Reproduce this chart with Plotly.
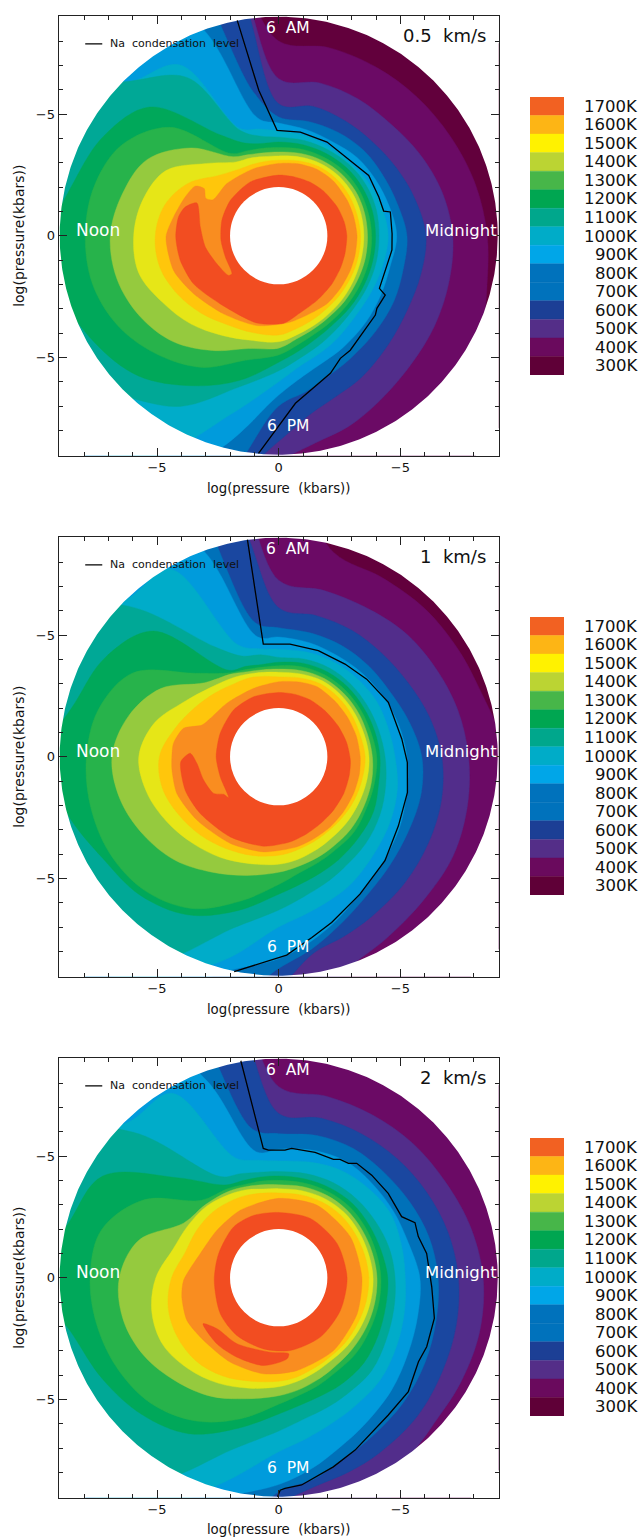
import math
import plotly.graph_objects as go

# Longitude (degrees, 0 = midnight, 90 = 6 AM, 180 = noon, 270 = 6 PM)
theta = [0,15,30,45,60,75,90,100,110,120,135,150,165,180,195,210,225,240,255,270,280,290,300,315,330,345]

# Panel (a) 0.5 km/s: log-pressure radius of the outer edge of each temperature band (12 = off the disk)
a_r400 = [8.57,8.35,8.15,8.05,8.0,8.0,8.0,11]+[12]*16+[9.6,8.85]
a_r500 = [7.15,6.95,6.7,6.5,6.5,6.5,6.45,11]+[12]*11+[9.3,8.65,8.35,8.0,7.6,7.4,7.25]
a_r600 = [6.05,5.8,5.58,5.45,5.45,5.5,5.42,10.5]+[12]*10+[11,8.45,7.45,7.0,6.75,6.35,6.1,6.05]
a_r700 = [5.27,5.05,4.95,4.95,4.9,4.85,4.88,6.0]+[12]*10+[11,7.0,6.5,6.1,5.85,5.6,5.45,5.3]
a_r800 = [4.85,4.7,4.6,4.55,4.45,4.5,4.63,4.9,9.0]+[12]*9+[9.0,6.55,5.85,5.5,5.3,5.05,4.85,4.75]
a_r900 = [4.5,4.4,4.3,4.2,4.2,4.25,4.3,4.45,4.7,8.1,8.85]+[12]*6+[10.5,7.6,6.0,5.4,5.1,4.85,4.55,4.45,4.45]
a_r1000 = [4.12,4.15,4.15,4.12,4.07,4.05,4.05,4.15,4.6,7.5,8.95]+[12]*5+[9.3,8.1,6.45,5.55,5.1,4.8,4.55,4.3,4.2,4.15]
a_r1100 = [3.98,3.98,3.97,3.95,3.9,3.87,3.85,3.85,4.05,4.78,7.48,8.26,8.69,9.35,9.25,8.75,8.15,7.12,6.15,5.2,4.8,4.5,4.3,4.15,4.05,4.0]
a_r1200 = [3.82,3.8,3.8,3.78,3.72,3.68,3.62,3.65,3.72,3.9,6.3,7.45,7.85,7.95,7.9,7.55,6.95,6.25,5.3,4.9,4.55,4.3,4.15,4.0,3.9,3.85]
a_r1300 = [3.65,3.65,3.65,3.62,3.57,3.5,3.44,3.46,3.55,3.75,5.1,6.25,6.65,6.92,6.88,6.6,6.15,5.45,4.8,4.62,4.3,4.1,3.95,3.82,3.72,3.68]
a_r1400 = [3.5,3.5,3.5,3.48,3.43,3.35,3.28,3.3,3.4,3.5,4.2,5.35,5.77,5.96,5.95,5.5,5.12,4.72,4.45,4.36,4.15,3.98,3.85,3.7,3.58,3.52]
a_r1500 = [3.36,3.33,3.33,3.32,3.28,3.18,3.1,3.1,3.12,3.17,3.5,4.3,4.85,5.07,5.05,4.8,4.5,4.22,4.12,4.08,3.9,3.75,3.62,3.5,3.42,3.38]
a_t1600 = [180.6,170,157.5,149.3,147.7,152.8,151.3,134.8,110.5,90,75,60.2,45,27.3,15,0,-15,-26,-40,-55,-82.3,-103.6,-125.2,-145.7,-161.7]
a_r1600 = [4.63,4.39,4.16,3.99,3.62,3.37,3.08,3.02,2.94,2.97,3.06,3.15,3.18,3.17,3.18,3.22,3.24,3.27,3.33,3.43,3.58,3.8,3.93,4.23,4.55]
a_t1700 = [180.7,169.4,162.9,158.2,173.7,188.8,204.4,218.4,219.2,201.8,184.6,164.9,143.8,117.8,90,75,59.5,45,26.2,12,0,345,333,318,300.7,285,273.3,256,229.4,209.5,194.1]
a_r1700 = [4.23,4.19,4.02,3.62,3.24,3.05,2.79,2.63,2.48,2.36,2.38,2.42,2.46,2.5,2.49,2.5,2.55,2.6,2.68,2.75,2.8,2.82,2.86,2.95,3.09,3.3,3.6,3.7,3.69,4.02,4.17]
a_na_t = [100.9,97.8,90.9,78.2,62.7,46.4,33.8,21.1,13.2,12,1,352.8-360,332.4-360,330.9-360,323.5-360,320.6-360,302-360,296.7-360,290.6-360,275.7-360,264.7-360]
a_na_r = [9.01,6.03,4.33,4.35,4.33,4.27,4.45,4.41,4.43,4.69,4.66,4.69,4.67,5.01,5.02,5.14,5.55,5.64,6.04,6.92,8.98]

# Panel (b) 1 km/s
b_r400 = [9.6,8.8,8.6,8.55,8.5,8.7]+[12]*20
b_r500 = [7.8,7.6,7.4,7.27,7.1,7.08,7.25]+[12]*13+[10,9.05,8.7,8.38,8.25,8.02]
b_r600 = [6.7,6.4,6.12,6.0,6.0,6.0,6.12,10]+[12]*11+[9.5,8.2,7.85,7.6,7.33,7.1,6.92]
b_r700 = [5.88,5.55,5.3,5.25,5.25,5.25,5.3,5.6]+[12]*10+[11,8.7,8.0,7.35,6.85,6.4,6.15,6.05]
b_r800 = [5.27,5.1,4.95,4.85,4.8,4.85,4.92,5.0,9.0]+[12]*9+[9.2,8.3,7.7,7.1,6.55,6.08,5.75,5.45]
b_r900 = [4.78,4.65,4.62,4.55,4.5,4.45,4.42,4.5,4.9,8.9,9.05]+[12]*6+[10.5,8.65,7.0,6.55,6.25,6.0,5.58,5.3,5.05]
b_r1000 = [4.37,4.25,4.2,4.2,4.2,4.15,4.08,4.25,4.4,5.2,8.75]+[12]*6+[9.7,7.3,6.3,5.85,5.55,5.3,5.05,4.8,4.55]
b_r1100 = [4.16,4.08,4.03,4.03,4.02,3.97,3.88,3.85,3.95,4.1,7.3,8.2,8.65,9.6,9.0,8.35,8.05,7.5,6.55,5.65,5.3,5.07,4.9,4.67,4.5,4.25]
b_r1200 = [4.03,3.92,3.88,3.87,3.86,3.82,3.74,3.74,3.82,3.98,4.85,6.9,7.65,7.9,8.0,8.0,7.78,7.2,6.15,5.25,4.85,4.65,4.5,4.38,4.18,4.08]
b_r1300 = [3.85,3.76,3.74,3.73,3.72,3.66,3.6,3.63,3.72,3.92,4.3,5.6,6.4,6.85,6.75,6.42,6.02,5.48,5.05,4.75,4.58,4.45,4.33,4.2,4.05,3.95]
b_r1400 = [3.71,3.63,3.6,3.6,3.6,3.52,3.47,3.52,3.62,3.75,4.0,4.5,5.3,5.75,5.62,5.32,5.02,4.78,4.55,4.42,4.3,4.15,4.02,3.9,3.8,3.75]
b_r1500 = [3.55,3.46,3.45,3.45,3.45,3.35,3.28,3.35,3.45,3.5,3.7,4.0,4.42,4.9,4.95,4.75,4.55,4.35,4.2,4.05,3.92,3.8,3.7,3.62,3.58,3.55]
b_t1600 = [180,172.8,163.4,157.6,150.7,134,110,90,75,61.3,45,30.3,15,0,-12,-26,-40,-53.6,-66,-78.5,-99,-119.1,-142.2,-160.2,-173]
b_r1600 = [4.39,4.36,4.08,3.41,3.22,3.06,2.99,3.08,3.18,3.28,3.25,3.26,3.3,3.35,3.39,3.43,3.49,3.58,3.66,3.78,3.96,4.08,4.25,4.45,4.42]
b_t1700 = [183,177.8,184.7,197.3,209.4,214.4,219.4,198.9,180,158.2,134,112.6,90,75,60.8,45,27.2,12,-3,-15,-29.4,-45,-58,-70,-82.2,-99.5,-121.1,-144.1,-160.3]
b_r1700 = [4.03,3.64,3.37,3.23,3.07,2.74,2.66,2.54,2.57,2.59,2.67,2.67,2.64,2.65,2.67,2.68,2.75,2.85,2.95,3.0,3.07,3.15,3.24,3.37,3.53,3.73,3.85,3.98,4.08]
b_na_t = [98.2,97.8,84.3,69.5,54.4,41.4,26.4,8.2,-2.5,-15.5,-30,-44.4,-59.4,-72.3,-79.6,-87.7,-101.7]
b_na_r = [9.01,4.67,4.65,4.65,4.68,4.82,5.03,5.11,5.29,5.49,5.68,6.11,6.56,7.15,7.55,8.16,9.02]

# Panel (c) 2 km/s
c_r400 = [12]*26
c_r500 = [8.4,8.15,7.9,7.8,7.72,7.71,7.85]+[12]*15+[9.6,8.8,8.63,8.55]
c_r600 = [7.38,7.2,7.02,6.9,6.82,6.78,6.75,11]+[12]*11+[9.3,8.7,8.48,8.3,8.05,7.75,7.55]
c_r700 = [6.55,6.4,6.22,6.12,6.13,6.05,5.92,6.2]+[12]*11+[8.8,8.4,7.9,7.58,7.25,6.95,6.7]
c_r800 = [5.8,5.52,5.45,5.45,5.52,5.42,5.28,5.25,8.6]+[12]*9+[9.4,8.5,7.95,7.4,7.0,6.55,6.15,5.92]
c_r900 = [5.2,5.22,5.3,5.2,5.1,4.92,4.8,4.9,5.25,8.75,8.95]+[12]*6+[11,8.7,7.15,6.7,6.37,6.15,5.92,5.6,5.35]
c_r1000 = [4.78,4.7,4.6,4.55,4.5,4.42,4.36,4.4,4.55,4.8,8.45]+[12]*6+[9.6,7.3,6.3,5.9,5.7,5.55,5.4,5.1,4.9]
c_r1100 = [4.48,4.35,4.3,4.3,4.25,4.2,4.18,4.2,4.25,4.4,5.8,8.35,8.9,10,8.8,8.35,7.95,7.4,6.4,5.6,5.3,5.15,5.08,4.95,4.72,4.55]
c_r1200 = [4.2,4.14,4.12,4.12,4.08,4.03,4.0,4.03,4.08,4.22,4.5,6.4,7.55,7.75,7.72,7.6,7.35,6.8,6.0,5.2,4.9,4.72,4.55,4.45,4.32,4.25]
c_r1300 = [4.04,3.98,3.95,3.95,3.92,3.87,3.82,3.88,3.98,4.1,4.25,4.5,5.95,6.55,6.62,6.4,6.0,5.62,5.15,4.85,4.68,4.5,4.35,4.22,4.14,4.08]
c_r1400 = [3.88,3.82,3.8,3.8,3.76,3.7,3.66,3.7,3.85,3.97,4.17,4.3,4.5,5.05,5.4,5.5,5.28,5.0,4.7,4.48,4.33,4.18,4.05,3.98,3.93,3.9]
c_r1500 = [3.7,3.65,3.62,3.62,3.58,3.52,3.48,3.53,3.62,3.7,3.82,3.89,3.98,4.4,4.7,4.82,4.82,4.65,4.4,4.25,4.15,4.0,3.9,3.82,3.75,3.72]
c_t1600 = [191.3,181.6,162.9,142.5,119.7,90,62,29.6,0,-25,-53,-79,-99,-120,-140.1,-155]
c_r1600 = [4.06,3.91,3.37,3.2,3.19,3.26,3.37,3.39,3.42,3.55,3.75,3.89,4.0,4.0,4.02,4.16]
c_t1700 = [182.4,158,131.6,112,90,61.8,30.2,0,-28,-55,-81,-102,-126,-148.3,None,211.3,219.6,237.7,263.6,277.5,275.9,260.3,242.3,226.9]
c_r1700 = [2.65,2.66,2.79,2.76,2.68,2.76,2.78,2.81,2.87,2.98,3.03,2.99,2.93,2.82,None,3.64,3.29,3.21,3.08,3.15,3.35,3.66,3.69,3.72]
c_na_t = [99.9,99.2,98.2,96.8,94.6,87.2,84.3,73.8,65.2,62.6,58.6,55.7,47.8,37.6,26.4,22,16.4,9.3,-3.4,-14.6,-25,-31,-41.3,-51.4,-66.1,-73.9,-83.7,-88.3,-89.6,-90.3]
c_na_r = [9.05,7.81,6.82,5.35,5.26,5.25,5.34,5.36,5.36,5.48,5.5,5.69,5.69,5.68,5.64,6.04,5.98,6.16,6.3,6.61,6.71,6.7,7.09,7.22,7.75,8.09,8.57,8.66,8.73,9.0]

panel_tags = ["(a)", "(b)", "(c)"]
panel_speeds = ["0.5  km/s", "1  km/s", "2  km/s"]
legend_labels = ["1700K","1600K","1500K","1400K","1300K","1200K","1100K","1000K","900K","800K","700K","600K","500K","400K","300K"]
legend_colors = ["#F26122","#FDB515","#FFF200","#BBD433","#47B649","#00A651","#00A78C","#00ACC8","#00A6E8","#0072BC","#0072BC","#1C3F95","#542E88","#6A0A5D","#5F0037"]
band_colors = {300:"#62003C",400:"#6B0A65",500:"#522D8B",600:"#1A47A0",700:"#0071B9",800:"#009BDC",900:"#00ACC9",
               1000:"#00A896",1100:"#00A85A",1200:"#27B34B",1300:"#95CA3E",1400:"#E6E617",1500:"#FFC60B",1600:"#F98D20",1700:"#F24D21"}
DISK = 9.0
HOLE = 2.0
LIM = 9.04

panels = [
    dict(r=[a_r400,a_r500,a_r600,a_r700,a_r800,a_r900,a_r1000,a_r1100,a_r1200,a_r1300,a_r1400,a_r1500],
         t16=a_t1600,r16=a_r1600,t17=a_t1700,r17=a_r1700,nt=a_na_t,nr=a_na_r),
    dict(r=[b_r400,b_r500,b_r600,b_r700,b_r800,b_r900,b_r1000,b_r1100,b_r1200,b_r1300,b_r1400,b_r1500],
         t16=b_t1600,r16=b_r1600,t17=b_t1700,r17=b_r1700,nt=b_na_t,nr=b_na_r),
    dict(r=[c_r400,c_r500,c_r600,c_r700,c_r800,c_r900,c_r1000,c_r1100,c_r1200,c_r1300,c_r1400,c_r1500],
         t16=c_t1600,r16=c_r1600,t17=c_t1700,r17=c_r1700,nt=c_na_t,nr=c_na_r),
]
for p in panels:
    for arr in p["r"]:
        assert len(arr) == len(theta), len(arr)
    assert len(p["t16"]) == len(p["r16"]) and len(p["t17"]) == len(p["r17"])

def to_xy(ts, rs, close=False):
    xs, ys = [], []
    for t, r in zip(ts, rs):
        if t is None:
            xs.append(None); ys.append(None); continue
        a = math.radians(t)
        xs.append(r*math.cos(a)); ys.append(r*math.sin(a))
    if close:
        xs.append(xs[0]); ys.append(ys[0])
    return xs, ys

# Square with a circular hole: hides everything beyond the disk edge.
def mask_xy():
    big = 10.0
    xs = [big, big, -big, -big, big, big]
    ys = [0, big, big, -big, -big, 0]
    for i in range(0, 721):
        a = -math.radians(i/2)
        xs.append(DISK*math.cos(a)); ys.append(DISK*math.sin(a))
    xs.append(big); ys.append(0)
    return xs, ys

W, H = 640, 1537
tops = [15.7, 536.7, 1057.7]
BOX_H = 440
leg_tops = [97, 617, 1138]
LEG_H = 278

fig = go.Figure()
annotations = []
shapes = []
layout = {}
MINOR = [-9,-8,-7,-6,-4,-3,-2,-1,1,2,3,4,6,7,8,9]
temps = [400,500,600,700,800,900,1000,1100,1200,1300,1400,1500]
TICK = "#222"

for i, p in enumerate(panels):
    xn = "x" if i == 0 else f"x{i+1}"
    yn = "y" if i == 0 else f"y{i+1}"
    def poly(xs, ys, color, smooth=1.0):
        fig.add_trace(go.Scatter(x=xs, y=ys, xaxis=xn, yaxis=yn, mode="lines", fill="toself",
                                 fillcolor=color, line=dict(width=0.4, color=color, shape="spline", smoothing=smooth, simplify=False),
                                 hoverinfo="skip", showlegend=False))
    x0, y0 = to_xy(theta, [12]*len(theta), close=True)
    poly(x0, y0, band_colors[300])
    for T, arr in zip(temps, p["r"]):
        xs, ys = to_xy(theta, arr, close=True)
        poly(xs, ys, band_colors[T])
    xs, ys = to_xy(p["t16"], p["r16"], close=True)
    poly(xs, ys, band_colors[1600], 0.7)
    if None in p["t17"]:
        k = p["t17"].index(None)
        x1, y1 = to_xy(p["t17"][:k], p["r17"][:k], close=True)
        x2, y2 = to_xy(p["t17"][k+1:], p["r17"][k+1:], close=True)
        poly(x1, y1, band_colors[1700], 0.8)
        poly(x2, y2, band_colors[1700], 0.8)
    else:
        xs, ys = to_xy(p["t17"], p["r17"], close=True)
        poly(xs, ys, band_colors[1700], 0.7)
    mx, my = mask_xy()
    fig.add_trace(go.Scatter(x=mx, y=my, xaxis=xn, yaxis=yn, mode="lines", fill="toself", fillcolor="white",
                             line=dict(width=0), hoverinfo="skip", showlegend=False))
    nx, ny = to_xy(p["nt"], p["nr"])
    fig.add_trace(go.Scatter(x=nx, y=ny, xaxis=xn, yaxis=yn, mode="lines", line=dict(color="black", width=1.3),
                             hoverinfo="skip", showlegend=False))
    fig.add_trace(go.Scatter(x=[-7.95,-7.25], y=[7.88,7.88], xaxis=xn, yaxis=yn, mode="lines",
                             line=dict(color="black", width=1.2), hoverinfo="skip", showlegend=False))
    shapes.append(dict(type="circle", xref=xn, yref=yn, x0=-HOLE, x1=HOLE, y0=-HOLE, y1=HOLE,
                       fillcolor="white", line=dict(width=0), layer="above"))
    dom_y = [1-(tops[i]+BOX_H)/H, 1-tops[i]/H]
    dom_x = [58.7/W, 498.7/W]
    common = dict(range=[-LIM, LIM], tickvals=[-5,0,5], ticktext=["\u22125","0","\u22125"], ticks="inside", ticklen=8,
                  tickwidth=1, tickcolor=TICK, showline=True, linecolor=TICK, linewidth=1.2, mirror="ticks",
                  showgrid=False, zeroline=False, tickfont=dict(family="DejaVu Sans", size=13, color="#111"),
                  minor=dict(tickvals=MINOR, ticks="inside", ticklen=4, tickwidth=1, tickcolor=TICK, showgrid=False))
    ax = dict(common); ay = dict(common)
    ax["domain"] = dom_x; ax["anchor"] = yn
    ax["title"] = dict(text="log(pressure  (kbars))", standoff=9, font=dict(family="DejaVu Sans", size=13.3, color="#111"))
    ay["domain"] = dom_y; ay["anchor"] = xn
    ay["title"] = dict(text="log(pressure(kbars))", standoff=7, font=dict(family="DejaVu Sans", size=14, color="#111"))
    layout["xaxis" if i == 0 else f"xaxis{i+1}"] = ax
    layout["yaxis" if i == 0 else f"yaxis{i+1}"] = ay
    # Mirrored minor ticks on the top and right edges
    m = 7 + i
    layout[f"xaxis{m}"] = dict(domain=dom_x, range=[-LIM, LIM], overlaying=xn, anchor=yn, side="top", tickvals=MINOR,
                               ticks="inside", ticklen=4, tickwidth=1, tickcolor=TICK, showticklabels=False,
                               showgrid=False, zeroline=False, showline=False)
    layout[f"yaxis{m}"] = dict(domain=dom_y, range=[-LIM, LIM], overlaying=yn, anchor=xn, side="right", tickvals=MINOR,
                               ticks="inside", ticklen=4, tickwidth=1, tickcolor=TICK, showticklabels=False,
                               showgrid=False, zeroline=False, showline=False)

    def note(text, x, y, size, color="white", anchor="center"):
        annotations.append(dict(text=text, x=x, y=y, xref=xn, yref=yn, showarrow=False, xanchor=anchor, yanchor="middle",
                                font=dict(family="DejaVu Sans", size=size, color=color)))
    note("Noon", -7.43, 0.23, 17)
    note("Midnight", 7.49, 0.23, 16.5)
    note("6  AM", 0.4, 8.53, 15.5)
    note("6  PM", 0.4, -7.8, 15.5)
    note(panel_speeds[i], 8.58, 8.24, 18, "#111", "right")
    note("Na  condensation  level", -7.03, 7.88, 11, "#111", "left")
    note(panel_tags[i], -9.73, 8.2, 18, "#111")

    # Colour key
    j = i + 4
    fig.add_trace(go.Bar(x=[1]*len(legend_labels), y=legend_labels, orientation="h", width=1,
                         marker=dict(color=legend_colors, line=dict(width=0.4, color=legend_colors)), xaxis=f"x{j}", yaxis=f"y{j}",
                         hoverinfo="skip", showlegend=False))
    layout[f"xaxis{j}"] = dict(domain=[530/W, 564/W], range=[0,1], visible=False, anchor=f"y{j}")
    layout[f"yaxis{j}"] = dict(domain=[1-(leg_tops[i]+LEG_H)/H, 1-leg_tops[i]/H], type="category",
                               categoryorder="array", categoryarray=legend_labels, range=[14.5,-0.5],
                               visible=False, anchor=f"x{j}")
    for lab in legend_labels:
        annotations.append(dict(text=lab, x=640/W, y=lab, xref="paper", yref=f"y{j}", showarrow=False,
                                xanchor="right", yanchor="middle",
                                font=dict(family="DejaVu Sans", size=16.5, color="#111")))

fig.update_layout(width=W, height=H, margin=dict(l=0, r=0, t=0, b=0), paper_bgcolor="white", plot_bgcolor="white",
                  showlegend=False, autosize=False, annotations=annotations, shapes=shapes, barmode="overlay", **layout)
fig.write_html("out.html", config=dict(displayModeBar=False), post_script="document.body.style.margin='0';")
